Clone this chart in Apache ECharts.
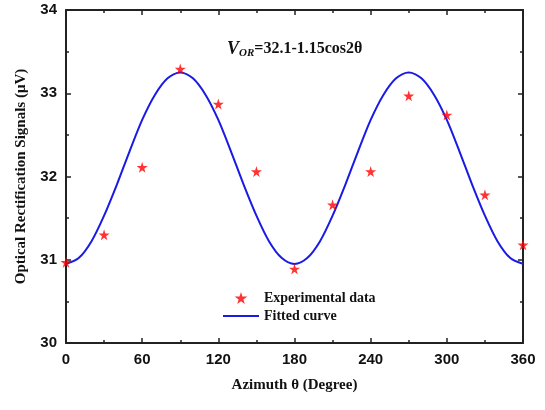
<!DOCTYPE html>
<html>
<head>
<meta charset="utf-8">
<script src="https://cdn.jsdelivr.net/npm/echarts@6/dist/echarts.min.js"></script>
<style>html,body{margin:0;padding:0;background:#fff}#c{width:545px;height:410px}</style>
</head>
<body>
<div id="c"></div>
<script>
// Experimental data (azimuth in degrees, signal in µV)
var expAngles = [0, 30, 60, 90, 120, 150, 180, 210, 240, 270, 300, 330, 360];
var expValues = [30.97, 31.30, 32.11, 33.29, 32.87, 32.06, 30.89, 31.66, 32.06, 32.97, 32.74, 31.78, 31.18];
// Fitted curve, read every 10 degrees
var fitAngles = [0, 10, 20, 30, 40, 50, 60, 70, 80, 90, 100, 110, 120, 130, 140, 150, 160, 170, 180,
                 190, 200, 210, 220, 230, 240, 250, 260, 270, 280, 290, 300, 310, 320, 330, 340, 350, 360];
var fitValues = [30.95, 31.02, 31.22, 31.53, 31.90, 32.30, 32.68, 32.98, 33.18, 33.25, 33.18, 32.98, 32.68, 32.30, 31.90, 31.53, 31.22, 31.02, 30.95,
                 31.02, 31.22, 31.53, 31.90, 32.30, 32.68, 32.98, 33.18, 33.25, 33.18, 32.98, 32.68, 32.30, 31.90, 31.53, 31.22, 31.02, 30.95];
var xTicks = [0, 60, 120, 180, 240, 300, 360];
var yTicks = [30, 31, 32, 33, 34];

var star = 'path://M50,0 L61,35 L98,35 L68,57 L79,91 L50,70 L21,91 L32,57 L2,35 L39,35 Z';
var lineIcon = 'path://M0,0 L100,0 L100,6 L0,6 Z';
var axisCol = '#222';
var serif = '"Liberation Serif", "Times New Roman", serif';
var sans = '"Liberation Sans", Arial, sans-serif';

function axisCommon(show) {
  return {
    axisLine: {show: true, onZero: false, lineStyle: {color: axisCol, width: 2}},
    axisTick: {show: true, inside: true, length: 5, lineStyle: {color: axisCol, width: 1.5}},
    minorTick: {show: true, splitNumber: 2, length: 3, lineStyle: {color: axisCol, width: 1.5}},
    splitLine: {show: false},
    axisLabel: {show: show}
  };
}

var chart = echarts.init(document.getElementById('c'), null, {renderer: 'canvas'});
var xa0 = axisCommon(true), xa1 = axisCommon(false), ya0 = axisCommon(true), ya1 = axisCommon(false);
Object.assign(xa0, {type: 'value', position: 'bottom', min: xTicks[0], max: xTicks[xTicks.length - 1], interval: 60,
  name: 'Azimuth θ (Degree)', nameLocation: 'middle', nameGap: 35,
  nameTextStyle: {fontFamily: serif, fontWeight: 'bold', fontSize: 15, color: '#111'}});
xa0.axisLabel = {show: true, margin: 9, fontFamily: sans, fontWeight: 'bold', fontSize: 15, color: '#111'};
Object.assign(xa1, {type: 'value', position: 'top', min: xTicks[0], max: xTicks[xTicks.length - 1], interval: 60});
Object.assign(ya0, {type: 'value', position: 'left', min: yTicks[0], max: yTicks[yTicks.length - 1], interval: 1,
  name: 'Optical Rectification Signals (μV)', nameLocation: 'middle', nameGap: 37,
  nameTextStyle: {fontFamily: serif, fontWeight: 'bold', fontSize: 15, color: '#111'}});
ya0.axisLabel = {show: true, margin: 9, fontFamily: sans, fontWeight: 'bold', fontSize: 15, color: '#111'};
Object.assign(ya1, {type: 'value', position: 'right', min: yTicks[0], max: yTicks[yTicks.length - 1], interval: 1});

chart.setOption({
  animation: false,
  backgroundColor: '#fff',
  grid: {left: 66, right: 22, top: 10, bottom: 67},
  xAxis: [xa0, xa1],
  yAxis: [ya0, ya1],
  legend: {
    orient: 'vertical', left: 218, top: 286, itemGap: 4, itemWidth: 36, itemHeight: 12,
    textStyle: {fontFamily: serif, fontWeight: 'bold', fontSize: 14, color: '#111'},
    data: [{name: 'Experimental data', icon: star, itemStyle: {color: '#f00'}},
           {name: 'Fitted curve', icon: lineIcon, itemStyle: {color: '#1a1ae6'}}]
  },
  graphic: [{
    type: 'text', left: 227, top: 40,
    style: {
      rich: {
        v: {fontFamily: serif, fontStyle: 'italic', fontWeight: 'bold', fontSize: 18, fill: '#111'},
        s: {fontFamily: serif, fontStyle: 'italic', fontWeight: 'bold', fontSize: 11, fill: '#111', verticalAlign: 'bottom', padding: [8, 0, 0, 0]},
        t: {fontFamily: serif, fontWeight: 'bold', fontSize: 16, fill: '#111'}
      },
      text: '{v|V}{s|OR}{t|=32.1-1.15cos2θ}'
    }
  }],
  series: [{
    name: 'Fitted curve', type: 'line', xAxisIndex: 0, yAxisIndex: 0,
    data: fitAngles.map(function (a, i) { return [a, fitValues[i]]; }),
    smooth: 0.3, symbol: 'none', lineStyle: {color: '#1a1ae6', width: 2}, itemStyle: {color: '#1a1ae6'}, z: 2
  }, {
    name: 'Experimental data', type: 'scatter', xAxisIndex: 0, yAxisIndex: 0,
    data: expAngles.map(function (a, i) { return [a, expValues[i]]; }),
    symbol: star, symbolSize: 11, itemStyle: {color: '#f00'}, z: 3, clip: false
  }]
});
</script>
</body>
</html>
